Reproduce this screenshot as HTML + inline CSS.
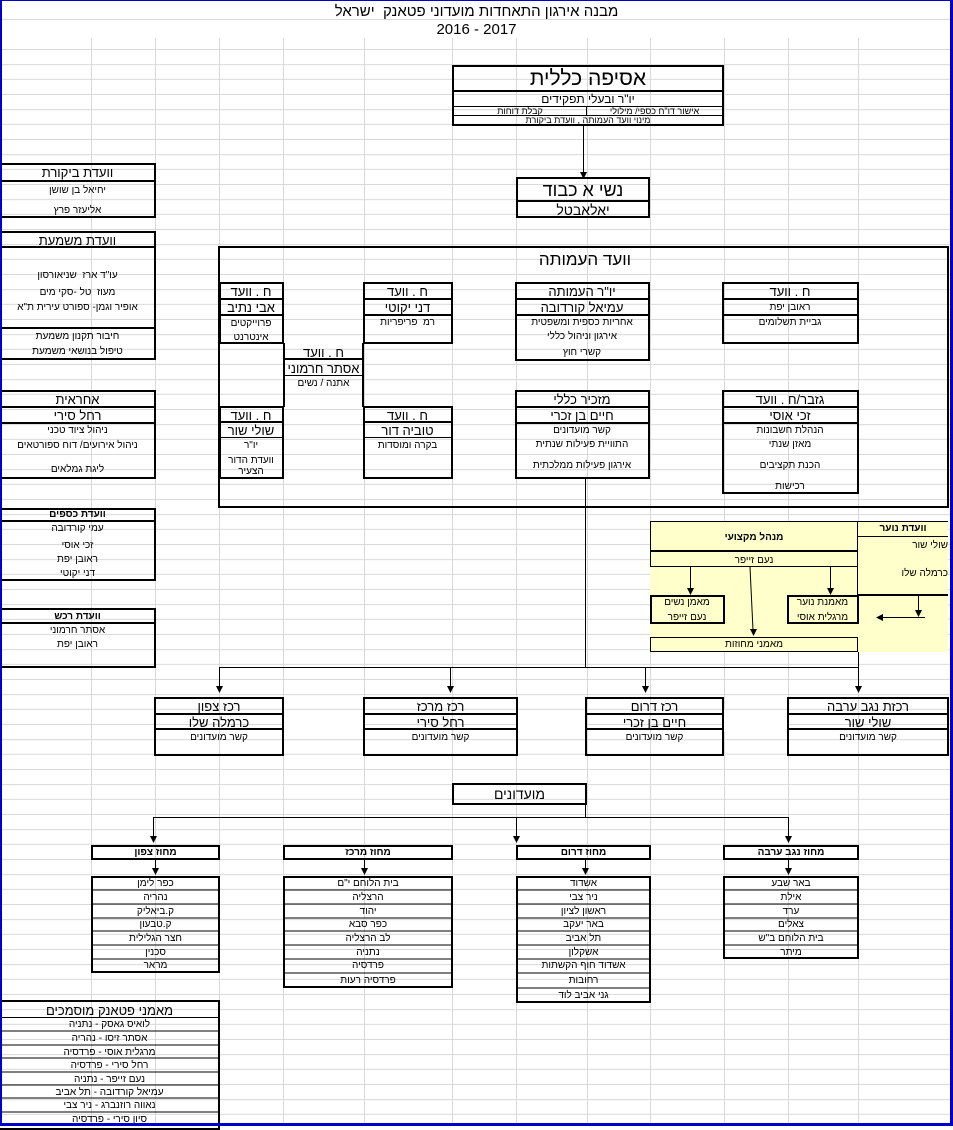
<!DOCTYPE html>
<html><head><meta charset="utf-8">
<style>
html,body{margin:0;padding:0}
body{width:953px;height:1126px;position:relative;overflow:hidden;background:#fff;font-family:"Liberation Sans","DejaVu Sans",sans-serif;color:#000}
.g{position:absolute;left:0;top:0;width:953px;height:1126px;background-image:repeating-linear-gradient(to bottom,transparent 0,transparent 14px,#d9d9d9 14px,#d9d9d9 15px);background-position:0 5px}
.vg{position:absolute;top:38px;width:1px;height:1088px;background:#d9d9d9}
.b{position:absolute;border:2px solid #000;box-sizing:border-box}
.l{position:absolute;background:#000}
.t{position:absolute;text-align:center;white-space:nowrap;direction:rtl}
.s{font-size:10px}
.m{font-size:13px}
.k{font-weight:bold;font-size:10px}
</style></head><body>
<div class="g"></div>
<div class="vg" style="left:91px"></div><div class="vg" style="left:155px"></div><div class="vg" style="left:219px"></div><div class="vg" style="left:283px"></div><div class="vg" style="left:364px"></div><div class="vg" style="left:452px"></div><div class="vg" style="left:516px"></div><div class="vg" style="left:587px"></div><div class="vg" style="left:650px"></div><div class="vg" style="left:724px"></div><div class="vg" style="left:788px"></div><div class="vg" style="left:858px"></div>
<div style="position:absolute;left:0;top:0;width:953px;height:38px;background:#fff"></div>
<div style="position:absolute;left:0;top:19px;width:953px;height:1px;background:#d9d9d9"></div>
<div class="t" style="left:0;width:953px;top:3px;font-size:15px">מבנה אירגון התאחדות מועדוני פטאנק&nbsp; ישראל</div>
<div class="t" style="left:0;width:953px;top:21px;font-size:15px;direction:ltr">2016 - 2017</div>

<!-- yellow -->
<div style="position:absolute;left:650px;top:521px;width:298px;height:131px;background:#ffffcc"></div>

<!-- אסיפה כללית -->
<div class="b" style="left:452px;top:65px;width:272px;height:61px"></div>
<div class="l" style="left:452px;top:90px;width:272px;height:2px"></div>
<div class="l" style="left:452px;top:106px;width:272px;height:1px"></div>
<div class="l" style="left:452px;top:115px;width:272px;height:1px"></div>
<div class="l" style="left:586px;top:106px;width:1px;height:10px"></div>
<div class="t" style="left:452px;width:272px;top:67px;font-size:21px">אסיפה כללית</div>
<div class="t" style="left:452px;width:272px;top:92px;font-size:12px">יו"ר ובעלי תפקידים</div>
<div class="t" style="left:587px;width:135px;top:106px;font-size:9px">אישור דו"ח כספי/ מילולי</div>
<div class="t" style="left:454px;width:132px;top:106px;font-size:9px">קבלת דוחות</div>
<div class="t" style="left:452px;width:272px;top:115px;font-size:9px">מינוי וועד העמותה , וועדת ביקורת</div>

<!-- נשיא כבוד -->
<div class="b" style="left:516px;top:177px;width:134px;height:41px"></div>
<div class="l" style="left:516px;top:200px;width:134px;height:2px"></div>
<div class="t" style="left:516px;width:134px;top:180px;font-size:18px">נשי א כבוד</div>
<div class="t" style="left:516px;width:134px;top:202px;font-size:14px">יאלאבטל</div>

<!-- וועדת ביקורת -->
<div class="b" style="left:-2px;top:163px;width:158px;height:55px"></div>
<div class="l" style="left:0;top:180px;width:155px;height:2px"></div>
<div class="t m" style="left:0;width:155px;top:165px">וועדת ביקורת</div>
<div class="t s" style="left:0;width:155px;top:185px">יחיאל בן שושן</div>
<div class="t s" style="left:0;width:155px;top:205px">אליעזר פרץ</div>

<!-- וועדת משמעת -->
<div class="b" style="left:-2px;top:231px;width:158px;height:129px"></div>
<div class="l" style="left:0;top:246px;width:155px;height:2px"></div>
<div class="l" style="left:0;top:327px;width:155px;height:2px"></div>
<div class="t m" style="left:0;width:155px;top:233px">וועדת משמעת</div>
<div class="t s" style="left:0;width:155px;top:270px">עו"ד ארז&nbsp; שניאורסון</div>
<div class="t s" style="left:0;width:155px;top:287px">מעוז&nbsp; טל -סקי מים</div>
<div class="t s" style="left:0;width:155px;top:302px">אופיר וגמן- ספורט עירית ת"א</div>
<div class="t s" style="left:0;width:155px;top:331px">חיבור תקנון משמעת</div>
<div class="t s" style="left:0;width:155px;top:346px">טיפול בנושאי משמעת</div>

<!-- אחראית -->
<div class="b" style="left:-2px;top:390px;width:158px;height:89px"></div>
<div class="l" style="left:0;top:406px;width:155px;height:2px"></div>
<div class="l" style="left:0;top:422px;width:155px;height:2px"></div>
<div class="t m" style="left:0;width:155px;top:392px">אחראית</div>
<div class="t m" style="left:0;width:155px;top:408px">רחל סירי</div>
<div class="t s" style="left:0;width:155px;top:425px">ניהול ציוד טכני</div>
<div class="t s" style="left:0;width:155px;top:440px">ניהול אירועים/ דוח ספורטאים</div>
<div class="t s" style="left:0;width:155px;top:464px">ליגת גמלאים</div>

<!-- וועדת כספים -->
<div class="b" style="left:-2px;top:508px;width:158px;height:73px"></div>
<div class="l" style="left:0;top:520px;width:155px;height:2px"></div>
<div class="t k" style="left:0;width:155px;top:509px">וועדת כספים</div>
<div class="t s" style="left:0;width:155px;top:523px">עמי קורדובה</div>
<div class="t s" style="left:0;width:155px;top:540px">זכי אוסי</div>
<div class="t s" style="left:0;width:155px;top:554px">ראובן יפת</div>
<div class="t s" style="left:0;width:155px;top:568px">דני יקוטי</div>

<!-- וועדת רכש -->
<div class="b" style="left:-2px;top:608px;width:158px;height:60px"></div>
<div class="l" style="left:0;top:622px;width:155px;height:2px"></div>
<div class="t k" style="left:0;width:155px;top:611px">וועדת רכש</div>
<div class="t s" style="left:0;width:155px;top:625px">אסתר חרמוני</div>
<div class="t s" style="left:0;width:155px;top:639px">ראובן יפת</div>

<!-- וועד העמותה -->
<div class="b" style="left:218px;top:246px;width:731px;height:262px"></div>
<div class="t" style="left:480px;width:210px;top:250px;font-size:17px">וועד העמותה</div>

<!-- אבי נתיב -->
<div class="b" style="left:219px;top:282px;width:65px;height:62px"></div>
<div class="l" style="left:219px;top:298px;width:64px;height:2px"></div>
<div class="l" style="left:219px;top:314px;width:64px;height:2px"></div>
<div class="t m" style="left:219px;width:64px;top:284px">ח . וועד</div>
<div class="t m" style="left:219px;width:64px;top:300px">אבי נתיב</div>
<div class="t s" style="left:219px;width:64px;top:318px">פרוייקטים</div>
<div class="t s" style="left:219px;width:64px;top:332px">אינטרנט</div>

<!-- דני יקוטי -->
<div class="b" style="left:363px;top:282px;width:90px;height:62px"></div>
<div class="l" style="left:363px;top:298px;width:89px;height:2px"></div>
<div class="l" style="left:363px;top:314px;width:89px;height:2px"></div>
<div class="t m" style="left:363px;width:89px;top:284px">ח . וועד</div>
<div class="t m" style="left:363px;width:89px;top:300px">דני יקוטי</div>
<div class="t s" style="left:363px;width:89px;top:317px">רמ&nbsp; פריפריות</div>

<!-- אסתר חרמוני -->
<div class="l" style="left:283px;top:343px;width:2px;height:64px"></div>
<div class="l" style="left:362px;top:343px;width:2px;height:64px"></div>
<div class="l" style="left:283px;top:358px;width:81px;height:2px"></div>
<div class="l" style="left:283px;top:375px;width:81px;height:1px"></div>
<div class="t m" style="left:283px;width:81px;top:345px">ח . וועד</div>
<div class="t m" style="left:283px;width:81px;top:361px">אסתר חרמוני</div>
<div class="t s" style="left:283px;width:81px;top:378px">אתנה / נשים</div>

<!-- שולי שור -->
<div class="b" style="left:219px;top:406px;width:65px;height:73px"></div>
<div class="l" style="left:219px;top:421px;width:64px;height:2px"></div>
<div class="l" style="left:219px;top:437px;width:64px;height:1px"></div>
<div class="t m" style="left:219px;width:64px;top:408px">ח . וועד</div>
<div class="t m" style="left:219px;width:64px;top:423px">שולי שור</div>
<div class="t s" style="left:219px;width:64px;top:440px">יו"ר</div>
<div class="t s" style="left:219px;width:64px;top:455px">וועדת הדור</div>
<div class="t s" style="left:219px;width:64px;top:466px">הצעיר</div>

<!-- טוביה דור -->
<div class="b" style="left:363px;top:406px;width:90px;height:73px"></div>
<div class="l" style="left:363px;top:421px;width:89px;height:2px"></div>
<div class="l" style="left:363px;top:437px;width:89px;height:1px"></div>
<div class="t m" style="left:363px;width:89px;top:408px">ח . וועד</div>
<div class="t m" style="left:363px;width:89px;top:423px">טוביה דור</div>
<div class="t s" style="left:363px;width:89px;top:440px">בקרה ומוסדות</div>

<!-- עמיאל -->
<div class="b" style="left:515px;top:282px;width:135px;height:79px"></div>
<div class="l" style="left:515px;top:298px;width:134px;height:2px"></div>
<div class="l" style="left:515px;top:314px;width:134px;height:2px"></div>
<div class="t m" style="left:515px;width:134px;top:284px">יו"ר העמותה</div>
<div class="t m" style="left:515px;width:134px;top:300px">עמיאל קורדובה</div>
<div class="t s" style="left:515px;width:134px;top:317px">אחריות כספית ומשפטית</div>
<div class="t s" style="left:515px;width:134px;top:331px">אירגון וניהול כללי</div>
<div class="t s" style="left:515px;width:134px;top:347px">קשרי חוץ</div>

<!-- ראובן יפת -->
<div class="b" style="left:722px;top:282px;width:137px;height:62px"></div>
<div class="l" style="left:722px;top:298px;width:136px;height:2px"></div>
<div class="l" style="left:722px;top:314px;width:136px;height:2px"></div>
<div class="t m" style="left:722px;width:136px;top:284px">ח . וועד</div>
<div class="t s" style="left:722px;width:136px;top:302px">ראובן יפת</div>
<div class="t s" style="left:722px;width:136px;top:317px">גביית תשלומים</div>

<!-- חיים בן זכרי -->
<div class="b" style="left:515px;top:390px;width:135px;height:89px"></div>
<div class="l" style="left:515px;top:406px;width:134px;height:2px"></div>
<div class="l" style="left:515px;top:422px;width:134px;height:2px"></div>
<div class="t m" style="left:515px;width:134px;top:392px">מזכיר כללי</div>
<div class="t m" style="left:515px;width:134px;top:408px">חיים בן זכרי</div>
<div class="t s" style="left:515px;width:134px;top:425px">קשר מועדונים</div>
<div class="t s" style="left:515px;width:134px;top:439px">התוויית פעילות שנתית</div>
<div class="t s" style="left:515px;width:134px;top:460px">אירגון פעילות ממלכתית</div>

<!-- זכי אוסי -->
<div class="b" style="left:722px;top:390px;width:137px;height:104px"></div>
<div class="l" style="left:722px;top:406px;width:136px;height:2px"></div>
<div class="l" style="left:722px;top:422px;width:136px;height:2px"></div>
<div class="t m" style="left:722px;width:136px;top:392px">גזבר/ח . וועד</div>
<div class="t m" style="left:722px;width:136px;top:408px">זכי אוסי</div>
<div class="t s" style="left:722px;width:136px;top:425px">הנהלת חשבונות</div>
<div class="t s" style="left:722px;width:136px;top:439px">מאזן שנתי</div>
<div class="t s" style="left:722px;width:136px;top:460px">הכנת תקציבים</div>
<div class="t s" style="left:722px;width:136px;top:481px">רכישות</div>

<!-- yellow area boxes -->
<div class="l" style="left:650px;top:521px;width:298px;height:1px"></div>
<div class="l" style="left:650px;top:521px;width:1px;height:46px"></div>
<div class="l" style="left:650px;top:550px;width:208px;height:2px"></div>
<div class="l" style="left:650px;top:566px;width:208px;height:1px"></div>
<div class="l" style="left:857px;top:521px;width:1px;height:75px"></div>
<div class="l" style="left:858px;top:536px;width:90px;height:1px"></div>
<div class="l" style="left:858px;top:594px;width:90px;height:2px"></div>
<div class="t k" style="left:650px;width:208px;top:532px">מנהל מקצועי</div>
<div class="t s" style="left:650px;width:208px;top:555px">נעם זייפר</div>
<div class="t k" style="left:858px;width:90px;top:523px">וועדת נוער</div>
<div class="t s" style="left:858px;width:90px;top:540px;text-align:right">שולי שור</div>
<div class="t s" style="left:858px;width:90px;top:568px;text-align:right">כרמלה שלו</div>
<div class="b" style="left:650px;top:595px;width:75px;height:29px"></div>
<div class="t s" style="left:650px;width:74px;top:597px">מאמן נשים</div>
<div class="t s" style="left:650px;width:74px;top:612px">נעם זייפר</div>
<div class="b" style="left:787px;top:595px;width:72px;height:29px"></div>
<div class="t s" style="left:787px;width:71px;top:597px">מאמנת נוער</div>
<div class="t s" style="left:787px;width:71px;top:612px">מרגלית אוסי</div>
<div style="position:absolute;left:650px;top:637px;width:208px;height:15px;border:1px solid #000;box-sizing:border-box"></div>
<div class="t s" style="left:650px;width:208px;top:639px">מאמני מחוזות</div>

<!-- רכזים -->
<div class="b" style="left:154px;top:697px;width:130px;height:59px"></div>
<div class="b" style="left:363px;top:697px;width:155px;height:59px"></div>
<div class="b" style="left:585px;top:697px;width:139px;height:59px"></div>
<div class="b" style="left:787px;top:697px;width:162px;height:59px"></div>
<div class="l" style="left:154px;top:713px;width:795px;height:2px"></div>
<div class="l" style="left:154px;top:728px;width:795px;height:2px"></div>
<div style="position:absolute;left:284px;top:710px;width:79px;height:22px;background:#fff"></div>
<div style="position:absolute;left:518px;top:710px;width:67px;height:22px;background:#fff"></div>
<div style="position:absolute;left:724px;top:710px;width:63px;height:22px;background:#fff"></div>
<div class="t m" style="left:154px;width:130px;top:699px">רכז צפון</div>
<div class="t m" style="left:154px;width:130px;top:715px">כרמלה שלו</div>
<div class="t s" style="left:154px;width:130px;top:732px">קשר מועדונים</div>
<div class="t m" style="left:363px;width:155px;top:699px">רכז מרכז</div>
<div class="t m" style="left:363px;width:155px;top:715px">רחל סירי</div>
<div class="t s" style="left:363px;width:155px;top:732px">קשר מועדונים</div>
<div class="t m" style="left:585px;width:139px;top:699px">רכז דרום</div>
<div class="t m" style="left:585px;width:139px;top:715px">חיים בן זכרי</div>
<div class="t s" style="left:585px;width:139px;top:732px">קשר מועדונים</div>
<div class="t m" style="left:787px;width:162px;top:699px">רכזת נגב ערבה</div>
<div class="t m" style="left:787px;width:162px;top:715px">שולי שור</div>
<div class="t s" style="left:787px;width:162px;top:732px">קשר מועדונים</div>

<!-- מועדונים -->
<div class="b" style="left:452px;top:783px;width:135px;height:22px"></div>
<div class="t" style="left:452px;width:135px;top:786px;font-size:14px">מועדונים</div>

<div class="b" style="left:91px;top:845px;width:129px;height:15px"></div>
<div class="t k" style="left:91px;width:129px;top:847px">מחוז צפון</div>
<div class="b" style="left:283px;top:845px;width:170px;height:15px"></div>
<div class="t k" style="left:283px;width:170px;top:847px">מחוז מרכז</div>
<div class="b" style="left:516px;top:845px;width:135px;height:15px"></div>
<div class="t k" style="left:516px;width:135px;top:847px">מחוז דרום</div>
<div class="b" style="left:723px;top:845px;width:136px;height:15px"></div>
<div class="t k" style="left:723px;width:136px;top:847px">מחוז נגב ערבה</div>

<!-- lists -->
<div class="b" style="left:91px;top:876px;width:129px;height:97px"></div>
<div class="b" style="left:283px;top:876px;width:170px;height:112px"></div>
<div class="b" style="left:516px;top:876px;width:135px;height:127px"></div>
<div class="b" style="left:723px;top:876px;width:136px;height:83px"></div>
<svg style="position:absolute;left:0;top:0" width="953" height="1126">
<g stroke="#000" stroke-width="1">
<line x1="92" y1="890" x2="219" y2="890"/><line x1="92" y1="904" x2="219" y2="904"/><line x1="92" y1="918" x2="219" y2="918"/><line x1="92" y1="931" x2="219" y2="931"/><line x1="92" y1="945" x2="219" y2="945"/><line x1="92" y1="959" x2="219" y2="959"/>
<line x1="284" y1="890" x2="452" y2="890"/><line x1="284" y1="904" x2="452" y2="904"/><line x1="284" y1="918" x2="452" y2="918"/><line x1="284" y1="931" x2="452" y2="931"/><line x1="284" y1="945" x2="452" y2="945"/><line x1="284" y1="959" x2="452" y2="959"/><line x1="284" y1="973" x2="452" y2="973"/>
<line x1="517" y1="890" x2="650" y2="890"/><line x1="517" y1="904" x2="650" y2="904"/><line x1="517" y1="918" x2="650" y2="918"/><line x1="517" y1="931" x2="650" y2="931"/><line x1="517" y1="945" x2="650" y2="945"/><line x1="517" y1="959" x2="650" y2="959"/><line x1="517" y1="973" x2="650" y2="973"/><line x1="517" y1="988" x2="650" y2="988"/>
<line x1="724" y1="890" x2="858" y2="890"/><line x1="724" y1="904" x2="858" y2="904"/><line x1="724" y1="918" x2="858" y2="918"/><line x1="724" y1="931" x2="858" y2="931"/><line x1="724" y1="945" x2="858" y2="945"/>
<line x1="2" y1="1031" x2="219" y2="1031"/><line x1="2" y1="1045" x2="219" y2="1045"/><line x1="2" y1="1058" x2="219" y2="1058"/><line x1="2" y1="1072" x2="219" y2="1072"/><line x1="2" y1="1085" x2="219" y2="1085"/><line x1="2" y1="1098" x2="219" y2="1098"/><line x1="2" y1="1112" x2="219" y2="1112"/>
</g>
<g stroke="#000" stroke-width="1" fill="none">
<line x1="583.5" y1="126" x2="583.5" y2="172"/>
<line x1="585.5" y1="478" x2="585.5" y2="667"/>
<line x1="219" y1="667.5" x2="858" y2="667.5"/>
<line x1="219.5" y1="667" x2="219.5" y2="686"/><line x1="450.5" y1="667" x2="450.5" y2="686"/><line x1="645.5" y1="667" x2="645.5" y2="686"/><line x1="858.5" y1="652" x2="858.5" y2="686"/>
<line x1="585.5" y1="805" x2="585.5" y2="817"/>
<line x1="153" y1="817.5" x2="788" y2="817.5"/>
<line x1="153.5" y1="817" x2="153.5" y2="837"/><line x1="516.5" y1="817" x2="516.5" y2="837"/><line x1="788.5" y1="817" x2="788.5" y2="837"/>
<line x1="155.5" y1="860" x2="155.5" y2="869"/><line x1="364.5" y1="860" x2="364.5" y2="869"/><line x1="585.5" y1="860" x2="585.5" y2="869"/><line x1="788.5" y1="860" x2="788.5" y2="869"/>
<line x1="690.5" y1="567" x2="690.5" y2="589"/><line x1="830.5" y1="567" x2="830.5" y2="589"/>
<line x1="750" y1="567" x2="753" y2="630"/>
<line x1="918.5" y1="596" x2="918.5" y2="611"/>
<line x1="925" y1="617.5" x2="882" y2="617.5"/>
</g>
<g fill="#000">
<polygon points="580,172 587,172 583.5,179"/>
<polygon points="216,686 223,686 219.5,693"/><polygon points="447,686 454,686 450.5,693"/><polygon points="642,686 649,686 645.5,693"/><polygon points="855,686 862,686 858.5,693"/>
<polygon points="150,836 157,836 153.5,843"/><polygon points="513,836 520,836 516.5,843"/><polygon points="785,836 792,836 788.5,843"/>
<polygon points="152,868 159,868 155.5,875"/><polygon points="361,868 368,868 364.5,875"/><polygon points="582,868 589,868 585.5,875"/><polygon points="785,868 792,868 788.5,875"/>
<polygon points="687,588 694,588 690.5,595"/><polygon points="827,588 834,588 830.5,595"/>
<polygon points="750,629 757,629 753.5,636"/>
<polygon points="915,610 922,610 918.5,617"/>
<polygon points="883,614 883,621 876,617.5"/>
</g>
</svg>
<div class="t s" style="left:91px;width:129px;top:878px">כפר לימן</div>
<div class="t s" style="left:91px;width:129px;top:892px">נהריה</div>
<div class="t s" style="left:91px;width:129px;top:906px">ק.ביאליק</div>
<div class="t s" style="left:91px;width:129px;top:919px">ק.טבעון</div>
<div class="t s" style="left:91px;width:129px;top:933px">חצר הגלילית</div>
<div class="t s" style="left:91px;width:129px;top:947px">סכנין</div>
<div class="t s" style="left:91px;width:129px;top:960px">מראר</div>
<div class="t s" style="left:283px;width:170px;top:878px">בית הלוחם י"ם</div>
<div class="t s" style="left:283px;width:170px;top:892px">הרצליה</div>
<div class="t s" style="left:283px;width:170px;top:906px">יהוד</div>
<div class="t s" style="left:283px;width:170px;top:919px">כפר סבא</div>
<div class="t s" style="left:283px;width:170px;top:933px">לב הרצליה</div>
<div class="t s" style="left:283px;width:170px;top:947px">נתניה</div>
<div class="t s" style="left:283px;width:170px;top:960px">פרדסיה</div>
<div class="t s" style="left:283px;width:170px;top:975px">פרדסיה רעות</div>
<div class="t s" style="left:516px;width:135px;top:878px">אשדוד</div>
<div class="t s" style="left:516px;width:135px;top:892px">ניר צבי</div>
<div class="t s" style="left:516px;width:135px;top:906px">ראשון לציון</div>
<div class="t s" style="left:516px;width:135px;top:919px">באר יעקב</div>
<div class="t s" style="left:516px;width:135px;top:933px">תל אביב</div>
<div class="t s" style="left:516px;width:135px;top:947px">אשקלון</div>
<div class="t s" style="left:516px;width:135px;top:960px">אשדוד חוף הקשתות</div>
<div class="t s" style="left:516px;width:135px;top:975px">רחובות</div>
<div class="t s" style="left:516px;width:135px;top:990px">גני אביב לוד</div>
<div class="t s" style="left:723px;width:136px;top:878px">באר שבע</div>
<div class="t s" style="left:723px;width:136px;top:892px">אילת</div>
<div class="t s" style="left:723px;width:136px;top:906px">ערד</div>
<div class="t s" style="left:723px;width:136px;top:919px">צאלים</div>
<div class="t s" style="left:723px;width:136px;top:933px">בית הלוחם ב"ש</div>
<div class="t s" style="left:723px;width:136px;top:947px">מיתר</div>

<!-- מאמני פטאנק -->
<div class="b" style="left:-2px;top:1000px;width:222px;height:130px"></div>
<div class="l" style="left:0;top:1017px;width:219px;height:1px"></div>
<div class="t m" style="left:0;width:219px;top:1003px">מאמני פטאנק מוסמכים</div>
<div class="t s" style="left:0;width:219px;top:1019px">לואיס גאסק - נתניה</div>
<div class="t s" style="left:0;width:219px;top:1033px">אסתר זיסו - נהריה</div>
<div class="t s" style="left:0;width:219px;top:1047px">מרגלית אוסי - פרדסיה</div>
<div class="t s" style="left:0;width:219px;top:1060px">רחל סירי - פרדסיה</div>
<div class="t s" style="left:0;width:219px;top:1074px">נעם זייפר - נתניה</div>
<div class="t s" style="left:0;width:219px;top:1087px">עמיאל קורדובה - תל אביב</div>
<div class="t s" style="left:0;width:219px;top:1100px">נאווה רוזנברג - ניר צבי</div>
<div class="t s" style="left:0;width:219px;top:1114px">סיון סירי - פרדסיה</div>

<!-- blue frame -->
<div style="position:absolute;left:0;top:0;width:953px;height:1126px;box-sizing:border-box;border:2px solid #0000c8;border-top-width:1px;border-right-width:3px;border-bottom-width:3px"></div>
</body></html>
